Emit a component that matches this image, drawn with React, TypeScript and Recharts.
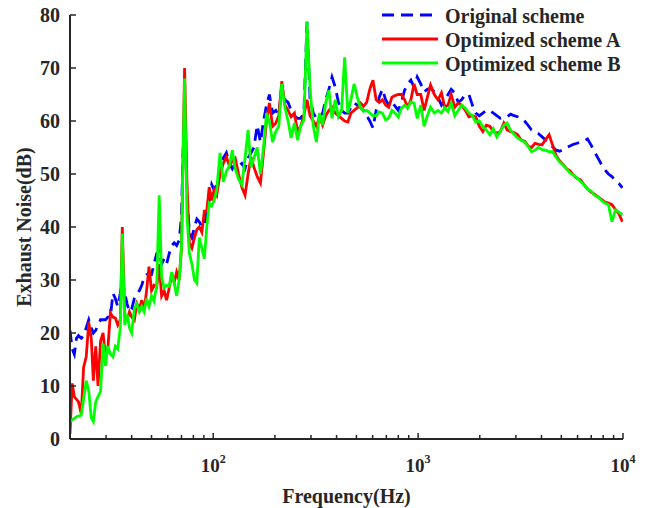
import React from 'react';
import { LineChart, Line, XAxis, YAxis, Label } from 'recharts';

const frequencies = [
  20, 20.5, 21, 21.5, 22, 22.7, 23.3, 24, 24.7, 25.4, 26, 26.7, 27.4, 28.2, 29, 29.8, 30.6, 31.5, 32.4, 33.3,
  34.2, 35.2, 36, 37, 38, 39, 40, 41.2, 42.4, 43.6, 44.8, 46, 47.3, 48.6, 50, 51.4, 53, 54.5, 56, 57.6,
  59.2, 61, 62.7, 64.5, 66.3, 68.2, 70, 71, 72.5, 74.5, 76.5, 78.7, 81, 83.2, 85.5, 88, 90.5, 93, 95.6, 98.3, 101,
  104, 108, 112, 116, 120, 124, 128, 133, 138, 143, 148, 153, 158, 164, 170, 176, 182, 188, 195, 202,
  209, 216, 224, 232, 240, 249, 258, 267, 277, 287, 297, 308, 319, 330, 342, 354, 367, 380, 394, 408,
  423, 438, 454, 470, 487, 505, 523, 542, 561, 581, 602, 624, 646, 670, 694, 719, 745, 772, 800, 829,
  859, 890, 922, 955, 990,
  1030, 1070, 1110, 1150, 1200, 1250, 1300, 1350, 1400, 1450, 1510, 1570, 1630, 1700, 1770, 1840, 1910, 1990, 2070, 2150,
  2240, 2330, 2420, 2520, 2620, 2720, 2830, 2940, 3060, 3180, 3310, 3440, 3580, 3720, 3870, 4030, 4190, 4360, 4530, 4710,
  4900, 5100, 5300, 5510, 5730, 5960, 6200, 6450, 6710, 6980, 7260, 7550, 7850, 8160, 8490, 8830, 9180, 9550, 9930,
];

const originalScheme = [
  20.5, 17, 16, 19, 19.5, 19, 19.5, 21, 22.5, 21, 20, 20.5, 21.5, 22.5, 22.5, 22.5, 23, 23, 27.5, 26.5,
  25, 27.5, 30, 27.5, 25.5, 24, 24.5, 26.5, 27.5, 28, 29, 30.5, 31, 31, 31, 33, 35, 35.5, 33, 34,
  33, 35, 36.5, 37, 36.5, 37.5, 42, 52, 62, 46, 39, 38, 40, 41.5, 41, 40, 40.5, 43, 45, 48, 47,
  48, 50, 53, 54, 52, 51, 52, 51.5, 52, 51, 53, 54, 55, 59.2, 56, 60, 63, 65, 61.5, 62,
  61, 66.5, 64, 63.5, 62, 61, 60.5, 60.5, 61.5, 78.7, 64, 61.5, 60.5, 60.8, 61.5, 64, 66, 68.3, 66.4, 63.6,
  62, 61.5, 61.5, 62.5, 63.4, 63, 62.5, 62, 61, 60, 58.7, 62, 64.5, 66, 64, 63, 63.5, 62.8, 62, 63.5,
  65.8, 67, 67.7, 66.4, 68.3,
  67, 65.5, 66, 66.2, 65.5, 64.5, 63, 64, 65, 66, 65.3, 63.5, 64, 65, 65, 63, 61.5, 61, 61.5, 62,
  62, 61.5, 61, 60.5, 60.6, 60.8, 61.3, 61, 60.8, 60.6, 60, 59.2, 58.3, 57.8, 57.6, 57, 56.4, 55.8, 55.2, 54.5,
  54.3, 54.6, 55, 55.3, 55.6, 55.8, 56, 56.2, 56.6, 55.5, 54.2, 53, 51.8, 50.8, 50, 49.5, 48.8, 48.2, 47.4,
];

const optimizedA = [
  1, 10.5, 8, 7.5, 7, 4.8, 13.5, 15.5, 22, 19, 11, 17.5, 10, 18.5, 20, 15.5, 17, 23.8, 23, 22.8,
  21.5, 22.5, 40, 23, 22.5, 24, 23, 22.4, 25.5, 24.5, 26.2, 24.3, 28, 32.5, 28, 29, 28.7, 33, 27, 28,
  26.2, 28.5, 31, 29.5, 31.5, 30, 36, 50, 70, 48, 37, 36, 38, 39.5, 40, 39, 43, 43, 47.5, 45, 47,
  46, 50, 52, 53.2, 51.5, 52.5, 53, 50, 47.5, 46, 50, 53.2, 51.3, 49.5, 48.3, 54, 60, 63.4, 59, 59.6,
  61, 67.5, 63, 62, 60.8, 61.5, 58, 59, 61, 64, 61, 60, 59, 60.8, 59.2, 61, 62, 62.6, 61.5, 61,
  60.5, 60, 59.8, 61.5, 62, 62.5, 63.4, 62.8, 63.5, 66, 67.7, 64, 63.5, 64, 63, 62.6, 64.5, 64.8, 65, 65,
  64, 62.6, 64, 67, 65,
  65, 62, 64.5, 66.8, 65, 64, 65.3, 62.6, 63, 65, 62.6, 63.4, 63, 62, 60.8, 61, 60.8, 59, 58, 59.2,
  59, 58, 57.7, 58, 59.6, 58.3, 58, 57.8, 57.4, 56.4, 56.2, 55.3, 55, 55.8, 55.6, 55.5, 56.5, 57.4, 55.5, 53.5,
  52.5, 51.8, 51, 50.6, 49.8, 49.2, 48.9, 48, 47.2, 46.6, 46.2, 45.7, 45.2, 44.7, 44.5, 44.2, 43.3, 42.5, 41,
];

const optimizedB = [
  3.3, 3.6, 3.9, 4.2, 4.3, 4.5, 7.5, 11, 9, 4, 3.3, 7, 8, 9, 18, 13.8, 17.5, 16, 15.5, 17.5,
  17, 21, 38.7, 21.5, 23.5, 21, 20, 24.5, 25.5, 24, 25, 24, 26.5, 25, 27, 26, 29, 46, 30.5, 28.5,
  29, 28.8, 31.5, 29.5, 27, 30, 36, 50, 68, 42, 35, 33, 30, 29.4, 38, 36, 34, 40, 44.5, 44, 45,
  47, 54, 48.5, 50.5, 51.5, 54.5, 51, 49, 48, 53, 58.3, 51.3, 53, 55, 50, 55, 61.5, 60, 56, 58,
  59, 67, 62.5, 60, 56.8, 59.6, 56.4, 59, 60.2, 78.7, 66, 59, 56, 61.5, 59.2, 63.5, 65.8, 60.5, 64, 60.8,
  62, 72, 61.5, 64, 67, 64.5, 62.5, 61.8, 62, 61.5, 61, 61, 61.7, 61.5, 60.2, 60.5, 62, 61.5, 60.8, 62.4,
  63, 62.5, 63.6, 63.4, 60.5,
  63, 59, 61, 62.6, 61.5, 62, 61.5, 62.5, 61.8, 63.4, 61, 62, 63, 62.4, 61.5, 61, 59.8, 60, 58.9, 58.3,
  57.4, 58.5, 57, 58, 59.2, 59.6, 58.2, 57.5, 56.8, 56.4, 56, 55.2, 54.2, 54.5, 55, 54.6, 54.5, 54.2, 54.2, 53.2,
  52.3, 51.7, 51, 50.2, 49.8, 49.3, 48.6, 48, 47.1, 46.8, 46, 45.7, 45, 44.5, 44.2, 41, 43.2, 42.8, 42.3,
];

const xTicks = [
  20, 30, 40, 50, 60, 70, 80, 90, 100, 200, 300, 400, 500, 600, 700, 800, 900,
  1000, 2000, 3000, 4000, 5000, 6000, 7000, 8000, 9000, 10000,
];
const yTicks = [0, 10, 20, 30, 40, 50, 60, 70, 80];
const seriesNames = ['Original scheme', 'Optimized scheme A', 'Optimized scheme B'];
const seriesColors = ['#0000ff', '#ff0000', '#00ff00'];
const xTitle = 'Frequency(Hz)';
const yTitle = 'Exhaust Noise(dB)';

const data = frequencies.map((f, i) => ({
  f,
  o: originalScheme[i],
  a: optimizedA[i],
  b: optimizedB[i],
}));

const FONT = '"Liberation Serif", "Times New Roman", serif';
const INK = '#262626';
const W = 651;
const H = 508;
const LW = 2.8;

const XTick = (props: any) => {
  const { x, y, payload } = props;
  const v = payload.value;
  const exp = Math.round(Math.log10(v));
  const major = Math.abs(Math.pow(10, exp) - v) < 1e-6;
  return (
    <g>
      <line x1={x} x2={x} y1={y} y2={y - (major ? 6 : 4)} stroke={INK} strokeWidth={1.5} />
      {major && (
        <text
          x={x}
          y={y + 33}
          textAnchor="middle"
          fontFamily={FONT}
          fontWeight="bold"
          fontSize={19}
          fill={INK}
        >
          10
          <tspan dy={-9} fontSize={12}>
            {exp}
          </tspan>
        </text>
      )}
    </g>
  );
};

const YTick = (props: any) => {
  const { x, y, payload } = props;
  return (
    <g>
      <line x1={x} x2={x + 6} y1={y} y2={y} stroke={INK} strokeWidth={1.5} />
      <text
        x={x - 10}
        y={y}
        dy="0.35em"
        textAnchor="end"
        fontFamily={FONT}
        fontWeight="bold"
        fontSize={20}
        fill={INK}
      >
        {payload.value}
      </text>
    </g>
  );
};

export default function App() {
  const legendY = [15, 39, 63];
  return (
    <div style={{ position: 'relative', width: W, height: H, marginLeft: -8, marginTop: -8 }}>
      <LineChart width={W} height={H} data={data} margin={{ top: 15, right: 28, bottom: 9, left: 0 }}>
        <XAxis
          dataKey="f"
          type="number"
          scale="log"
          domain={[20, 10000]}
          allowDataOverflow
          ticks={xTicks}
          interval={0}
          height={60}
          tickSize={0}
          tickMargin={0}
          tickLine={false}
          tick={<XTick />}
          axisLine={{ stroke: INK, strokeWidth: 2 }}
        >
          <Label
            content={(p: any) => {
              const vb = p.viewBox || { x: 70, width: 553, y: 439 };
              return (
                <text
                  x={vb.x + vb.width / 2}
                  y={vb.y + 64}
                  textAnchor="middle"
                  fontFamily={FONT}
                  fontWeight="bold"
                  fontSize={20}
                  fill={INK}
                >
                  {xTitle}
                </text>
              );
            }}
          />
        </XAxis>
        <YAxis
          type="number"
          domain={[0, 80]}
          ticks={yTicks}
          interval={0}
          width={70}
          tickSize={0}
          tickMargin={0}
          tickLine={false}
          tick={<YTick />}
          axisLine={{ stroke: INK, strokeWidth: 2 }}
        >
          <Label
            content={(p: any) => {
              const vb = p.viewBox || { x: 0, y: 15, height: 424 };
              const cx = 24;
              const cy = vb.y + vb.height / 2;
              return (
                <text
                  x={cx}
                  y={cy}
                  transform={`rotate(-90, ${cx}, ${cy})`}
                  textAnchor="middle"
                  dominantBaseline="central"
                  fontFamily={FONT}
                  fontWeight="bold"
                  fontSize={20}
                  fill={INK}
                >
                  {yTitle}
                </text>
              );
            }}
          />
        </YAxis>
        <Line
          type="linear"
          dataKey="o"
          name={seriesNames[0]}
          stroke={seriesColors[0]}
          strokeWidth={LW}
          strokeDasharray="12 7"
          dot={false}
          isAnimationActive={false}
        />
        <Line
          type="linear"
          dataKey="a"
          name={seriesNames[1]}
          stroke={seriesColors[1]}
          strokeWidth={LW}
          dot={false}
          isAnimationActive={false}
        />
        <Line
          type="linear"
          dataKey="b"
          name={seriesNames[2]}
          stroke={seriesColors[2]}
          strokeWidth={LW}
          dot={false}
          isAnimationActive={false}
        />
      </LineChart>
      <svg
        width={W}
        height={H}
        style={{ position: 'absolute', left: 0, top: 0, pointerEvents: 'none' }}
      >
        {seriesNames.map((name, i) => (
          <g key={name}>
            <line
              x1={382}
              x2={438}
              y1={legendY[i]}
              y2={legendY[i]}
              stroke={seriesColors[i]}
              strokeWidth={LW}
              strokeDasharray={i === 0 ? '12 7' : undefined}
            />
            <text
              x={445}
              y={legendY[i] + 1}
              dy="0.35em"
              fontFamily={FONT}
              fontWeight="bold"
              fontSize={20}
              fill={INK}
            >
              {name}
            </text>
          </g>
        ))}
      </svg>
    </div>
  );
}
